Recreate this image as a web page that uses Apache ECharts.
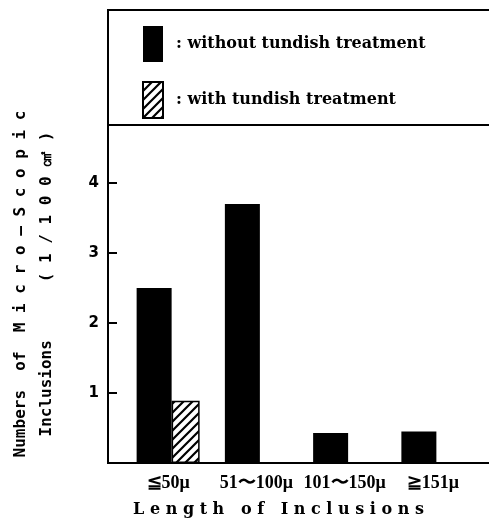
<!DOCTYPE html>
<html>
<head>
<meta charset="utf-8">
<script src="https://cdn.jsdelivr.net/npm/echarts@6/dist/echarts.min.js"></script>
<style>
  html, body { margin: 0; padding: 0; background: #fff; }
  #chart { width: 489px; height: 527px; }
</style>
</head>
<body>
<div id="chart"></div>
<script>
// data
var categories = ['≦50μ', '51〜100μ', '101〜150μ', '≧151μ'];
var seriesNames = ['without tundish treatment', 'with tundish treatment'];
var withoutTreatment = [2.5, 3.7, 0.43, 0.45];
var withTreatment = [0.89, null, null, null];
var yTicks = [1, 2, 3, 4];

// hatch pattern "////" for the treated bars
function hatch() {
  var c = document.createElement('canvas');
  c.width = 9; c.height = 9;
  var g = c.getContext('2d');
  g.fillStyle = '#fff';
  g.fillRect(0, 0, 9, 9);
  g.strokeStyle = '#000';
  g.lineWidth = 2.2;
  g.beginPath();
  g.moveTo(-2, 11); g.lineTo(11, -2);
  g.moveTo(-7, 7); g.lineTo(7, -7);
  g.moveTo(2, 16); g.lineTo(16, 2);
  g.stroke();
  return { image: c, repeat: 'repeat' };
}

var myChart = echarts.init(document.getElementById('chart'));
var option = {
  backgroundColor: '#fff',
  animation: false,
  grid: { left: 124, right: 12, top: 125, bottom: 64, outerBoundsMode: 'none', containLabel: false },
  legend: {
    orient: 'vertical',
    left: 137,
    top: 21,
    itemWidth: 20,
    itemHeight: 36,
    itemGap: 19,
    icon: 'rect',
    data: seriesNames,
    formatter: function (n) { return ': ' + n; },
    textStyle: {
      fontFamily: 'DejaVu Serif',
      fontWeight: 'bold',
      fontSize: 16,
      color: '#000',
      padding: [0, 0, 0, 8]
    }
  },
  xAxis: {
    type: 'category',
    data: categories,
    axisLine: { show: false },
    axisTick: { show: false },
    axisLabel: {
      interval: 0,
      hideOverlap: false,
      margin: 11,
      color: '#000',
      fontFamily: 'Liberation Serif',
      fontWeight: 'bold',
      fontSize: 18
    },
    name: 'L e n g t h   o f   I n c l u s i o n s',
    nameLocation: 'middle',
    nameGap: 39,
    nameTextStyle: {
      color: '#000',
      fontFamily: 'DejaVu Serif',
      fontWeight: 'bold',
      fontSize: 16,
      padding: [0, 44, 0, 0]
    }
  },
  yAxis: {
    type: 'value',
    min: 0,
    max: 4.83,
    interval: 1,
    offset: 16,
    axisLine: { show: false },
    axisTick: { show: true, inside: true, length: 9, lineStyle: { color: '#000', width: 2 } },
    splitLine: { show: false },
    axisLabel: {
      showMinLabel: false,
      showMaxLabel: false,
      margin: 9,
      color: '#000',
      fontFamily: 'DejaVu Sans',
      fontWeight: 'bold',
      fontSize: 15,
      formatter: function (v) { return yTicks.indexOf(v) >= 0 ? String(v) : ''; }
    },
    name: 'Numbers  of  M i c r o — S c o p i c\nInclusions      ( 1 / 1 0 0 ㎠ )',
    nameLocation: 'middle',
    nameRotate: 90,
    nameGap: 48,
    nameTextStyle: {
      color: '#000',
      fontFamily: 'DejaVu Sans Mono',
      fontWeight: 'bold',
      fontSize: 16,
      lineHeight: 26,
      padding: [0, 0, 0, 20]
    }
  },
  series: [
    {
      name: seriesNames[0],
      type: 'bar',
      data: withoutTreatment,
      barWidth: 35,
      barGap: 0,
      itemStyle: { color: '#000' }
    },
    {
      name: seriesNames[1],
      type: 'bar',
      data: withTreatment,
      barWidth: 28,
      barGap: 0,
      itemStyle: { color: hatch(), borderColor: '#000', borderWidth: 1.5 }
    }
  ],
  graphic: [
    {
      type: 'rect',
      shape: { x: 108, y: 10, width: 390, height: 453 },
      style: { fill: null, stroke: '#000', lineWidth: 2 },
      silent: true
    },
    {
      type: 'line',
      shape: { x1: 108, y1: 125, x2: 489, y2: 125 },
      style: { stroke: '#000', lineWidth: 2 },
      silent: true
    }
  ]
};
myChart.setOption(option);
</script>
</body>
</html>
